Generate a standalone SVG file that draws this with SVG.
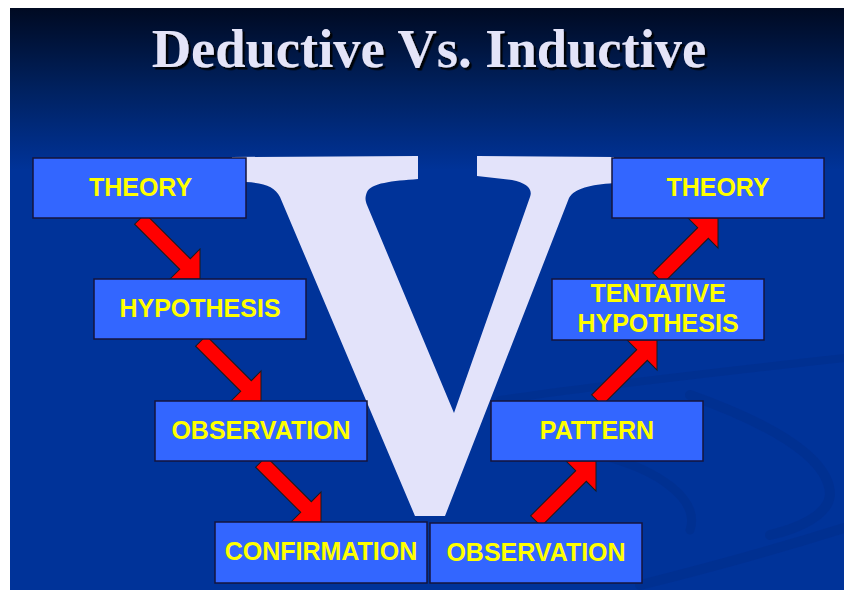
<svg xmlns="http://www.w3.org/2000/svg" width="844" height="590" viewBox="0 0 844 590">
  <defs>
    <linearGradient id="bg" x1="0" y1="8" x2="0" y2="170" gradientUnits="userSpaceOnUse">
      <stop offset="0" stop-color="#000a22"/>
      <stop offset="0.5" stop-color="#00215f"/>
      <stop offset="1" stop-color="#003399"/>
    </linearGradient>
    <filter id="shadow" x="-5%" y="-20%" width="110%" height="150%">
      <feDropShadow dx="2.5" dy="2.5" stdDeviation="0.6" flood-color="#000000" flood-opacity="0.9"/>
    </filter>
    <path id="arr" d="M -85,-7.5 L -21.2,-7.5 L -21.2,-21.2 L 0,0 L -21.2,21.2 L -21.2,7.5 L -85,7.5 Z"/>
    <style>
      .box { fill: #3366ff; stroke: #14143c; stroke-width: 1.5; }
      .lbl { font-family: "Liberation Sans", Arial, sans-serif; font-weight: bold; font-size: 25px; fill: #ffff00; text-anchor: middle; }
      .arrow { fill: #ff0000; stroke: #1a1a1a; stroke-width: 1; stroke-linejoin: miter; }
      .swirl { fill: none; stroke: #002c85; stroke-opacity: 0.35; stroke-linecap: round; }
      .title { font-family: "Liberation Serif", "Times New Roman", serif; font-weight: bold; font-size: 54.5px; text-anchor: middle; }
    </style>
  </defs>

  <rect x="0" y="0" width="844" height="590" fill="#ffffff"/>
  <rect x="10" y="8" width="834" height="582" fill="url(#bg)"/>

  <g id="swirls">
    <path class="swirl" stroke-width="8" d="M 500,400 C 600,385 720,372 844,358"/>
    <path class="swirl" stroke-width="10" d="M 690,395 C 760,420 830,455 830,495 C 828,515 800,528 770,535"/>
    <path class="swirl" stroke-width="9" d="M 600,455 C 660,470 700,500 690,530"/>
    <path class="swirl" stroke-width="10" d="M 640,585 C 720,565 790,545 844,528"/>
  </g>

  <g id="title">
    <text class="title" x="429" y="67" fill="#e4e4f8" filter="url(#shadow)">Deductive Vs. Inductive</text>
  </g>

  <g id="bigV">
    <path fill="#e3e3fa" d="M 232,157 L 418,156 L 418,179 C 392,181 371,183 367,192 C 365,197 365,200 367,205 L 454,413 L 530,197 C 533,189 527,183 512,180 L 477,176 L 477,156 L 614,157 L 614,183 C 590,185 575,188 569,198 L 445,516 L 415,516 L 280,197 C 275,187 265,183 246,182 L 232,181 Z"/>
  </g>

  <g id="connectors">
    <use href="#arr" class="arrow" transform="translate(200,279) rotate(45)"/>
    <use href="#arr" class="arrow" transform="translate(261,401) rotate(45)"/>
    <use href="#arr" class="arrow" transform="translate(321,522) rotate(45)"/>
    <use href="#arr" class="arrow" transform="translate(596,461) rotate(-45)"/>
    <use href="#arr" class="arrow" transform="translate(657,340) rotate(-45)"/>
    <use href="#arr" class="arrow" transform="translate(718,218) rotate(-45)"/>
  </g>

  <g id="theory-left">
    <rect class="box" x="33" y="158" width="213" height="60"/>
    <text class="lbl" x="140.5" y="195.5">THEORY</text>
  </g>
  <g id="hypothesis">
    <rect class="box" x="94" y="279" width="212" height="60"/>
    <text class="lbl" x="200" y="316.5">HYPOTHESIS</text>
  </g>
  <g id="observation-left">
    <rect class="box" x="155" y="401" width="212" height="60"/>
    <text class="lbl" x="261" y="438.5">OBSERVATION</text>
  </g>
  <g id="confirmation">
    <rect class="box" x="215" y="522" width="212" height="61"/>
    <text class="lbl" x="321" y="560">CONFIRMATION</text>
  </g>
  <g id="observation-right">
    <rect class="box" x="430" y="523" width="212" height="60"/>
    <text class="lbl" x="536" y="560.5">OBSERVATION</text>
  </g>
  <g id="pattern">
    <rect class="box" x="491" y="401" width="212" height="60"/>
    <text class="lbl" x="597" y="438.5">PATTERN</text>
  </g>
  <g id="tentative-hypothesis">
    <rect class="box" x="552" y="279" width="212" height="61"/>
    <text class="lbl" x="658" y="301.5">TENTATIVE</text>
    <text class="lbl" x="658" y="331.5">HYPOTHESIS</text>
  </g>
  <g id="theory-right">
    <rect class="box" x="612" y="158" width="212" height="60"/>
    <text class="lbl" x="718" y="195.5">THEORY</text>
  </g>
</svg>
